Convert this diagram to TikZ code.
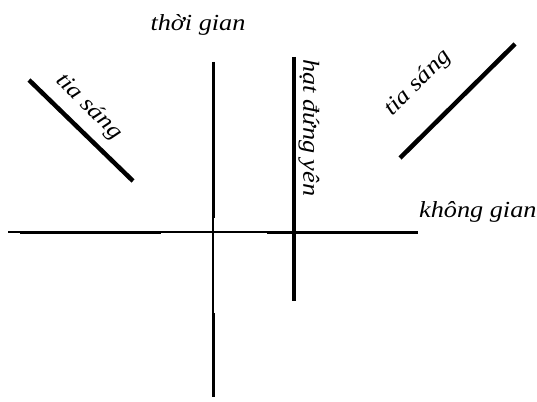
\documentclass[tikz,border=0pt]{standalone}
\usepackage{fontspec}
\setmainfont{Liberation Serif}
\begin{document}
\begin{tikzpicture}[x=1pt,y=-1pt,
  lbl/.style={font=\fontsize{23}{26}\selectfont\itshape, inner sep=0pt},
  wide/.style={xscale=1.14},
  thick axis/.style={line width=3pt},
  thin axis/.style={line width=1.2pt},
  ray/.style={line width=4.5pt},
  world/.style={line width=4.5pt}]
\useasboundingbox (0,0) rectangle (537,401);
% axes
\coordinate (hL) at (8,232);
\coordinate (hR) at (418,232);
\coordinate (vT) at (213,62);
\coordinate (vB) at (213,397);
\draw[thin axis] (hL) -- (hR);
\draw[thin axis] (vT) -- (vB);
\draw[thick axis] (20,232) -- (161,232);
\draw[thick axis] (267,232) -- (hR);
\draw[thick axis] (vT) -- (213,218);
\draw[thick axis] (213,313) -- (vB);
% world line of particle at rest
\coordinate (pT) at (294,57);
\coordinate (pB) at (294,301);
\draw[world] (pT) -- (pB);
% light rays
\coordinate (r1a) at (29,80);
\coordinate (r1b) at (133,181);
\coordinate (r2a) at (400,158);
\coordinate (r2b) at (515,44);
\draw[ray] (r1a) -- (r1b);
\draw[ray] (r2a) -- (r2b);
% labels
\node[lbl, wide, anchor=base] (tlabel) at (198,31) {thời gian};
\node[lbl, wide, anchor=base west] (xlabel) at (419,217) {không gian};
\node[lbl, rotate=-45, wide] (ray1) at (89,107) {tia sáng};
\node[lbl, rotate=45, wide] (ray2) at (418,83) {tia sáng};
\node[lbl, rotate=-90, wide] (plabel) at (309,128) {hạt đứng yên};
\end{tikzpicture}
\end{document}
